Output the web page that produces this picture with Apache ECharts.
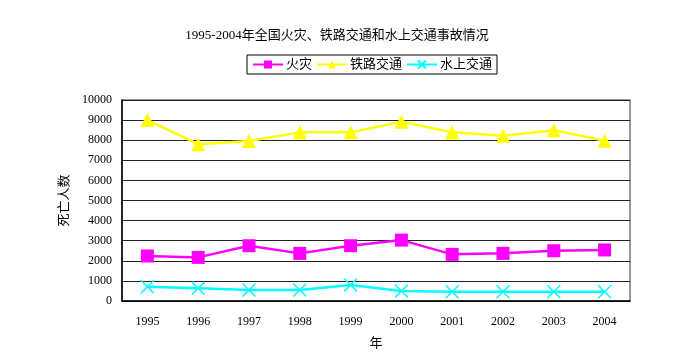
<!DOCTYPE html>
<html>
<head>
<meta charset="utf-8">
<script src="https://cdn.jsdelivr.net/npm/echarts@6/dist/echarts.min.js"></script>
<style>
  html, body { margin: 0; padding: 0; background: #fff; }
  #main { width: 674px; height: 352px; }
</style>
</head>
<body>
<div id="main"></div>
<script>
var years = ['1995', '1996', '1997', '1998', '1999', '2000', '2001', '2002', '2003', '2004'];
var fire = [2240, 2170, 2750, 2370, 2750, 3030, 2320, 2370, 2500, 2540];
var railway = [9000, 7800, 7960, 8390, 8390, 8920, 8390, 8220, 8500, 7970];
var water = [710, 630, 550, 550, 800, 500, 460, 460, 460, 460];

var font = '"Liberation Serif", "Noto Sans CJK SC", serif';

var chart = echarts.init(document.getElementById('main'));
var option = {
  backgroundColor: '#fff',
  textStyle: { fontFamily: font, color: '#000' },
  title: {
    text: '1995-2004年全国火灾、铁路交通和水上交通事故情况',
    left: 'center',
    top: 24,
    textStyle: { fontSize: 13, fontWeight: 'normal', color: '#000', fontFamily: font }
  },
  legend: {
    top: 55,
    left: 247,
    itemWidth: 30,
    itemHeight: 10,
    itemGap: 4,
    padding: [3, 5],
    borderColor: '#000',
    borderWidth: 1,
    textStyle: { fontSize: 13, color: '#000', fontFamily: font, padding: [0, 0, 0, -2] },
    data: ['火灾', '铁路交通', '水上交通']
  },
  grid: {
    left: 122, right: 44, top: 100, bottom: 51,
    outerBoundsMode: 'none',
    show: true, borderColor: '#777', borderWidth: 1.5
  },
  xAxis: {
    type: 'category',
    data: years,
    name: '年',
    nameLocation: 'middle',
    nameGap: 36,
    nameTextStyle: { fontSize: 13, color: '#000' },
    axisLine: { lineStyle: { color: '#000', width: 1.5 } },
    axisTick: { inside: true, length: 5, lineStyle: { color: '#000' } },
    axisLabel: { margin: 15, fontSize: 12, color: '#000' }
  },
  yAxis: {
    type: 'value',
    min: 0,
    max: 10000,
    interval: 1000,
    name: '死亡人数',
    nameLocation: 'middle',
    nameGap: 47,
    nameRotate: 90,
    nameTextStyle: { fontSize: 13, color: '#000' },
    axisLine: { show: true, lineStyle: { color: '#000', width: 1.5 } },
    axisTick: { show: false },
    axisLabel: {
      margin: 10, fontSize: 12, color: '#000',
      formatter: function (v) { return String(v); }
    },
    splitLine: { lineStyle: { color: '#222', width: 1.2 } }
  },
  series: [
    {
      name: '火灾', type: 'line', data: fire,
      symbol: 'rect', symbolSize: 13,
      lineStyle: { color: '#ff00ff', width: 2.5 },
      itemStyle: { color: '#ff00ff' }
    },
    {
      name: '铁路交通', type: 'line', data: railway,
      symbol: 'triangle', symbolSize: 14,
      lineStyle: { color: '#ffff00', width: 2.5 },
      itemStyle: { color: '#ffff00' }
    },
    {
      name: '水上交通', type: 'line', data: water,
      symbol: 'path://M0,0 L10,10 M10,0 L0,10', symbolSize: 13,
      lineStyle: { color: '#00ffff', width: 2.5 },
      itemStyle: { color: 'none', borderColor: '#00ffff', borderWidth: 1.5 }
    }
  ]
};
chart.setOption(option);
</script>
</body>
</html>
